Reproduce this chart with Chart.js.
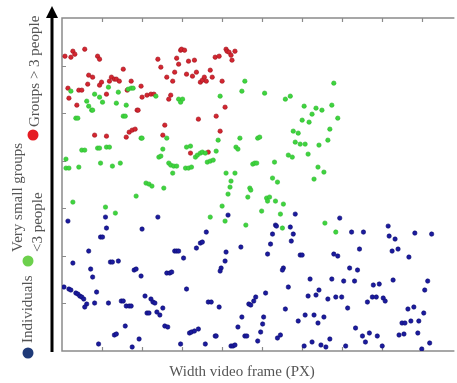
<!DOCTYPE html>
<html>
<head>
<meta charset="utf-8">
<script src="https://cdn.jsdelivr.net/npm/chart.js@4.4.1/dist/chart.umd.min.js"></script>
<style>
  html, body { margin: 0; padding: 0; background: #fff; }
  #wrap { width: 457px; height: 383px; }
</style>
</head>
<body>
<div id="wrap"><canvas id="my-chart" width="457" height="383"></canvas></div>
<script>
// groups > 3 people
const redPoints = [
  [3,295],[9,294],[11,300],[13,297],[23,302],[36,295],[38,292],[62,282],[27,276],[31,274],
  [26,267],[6,263],[17,261],[20,261],[38,266],[40,269],[48,270],[50,274],[53,272],[55,272],
  [58,270],[70,270],[45,257],[66,261],[80,265],[7,253],[15,246],[81,254],[86,256],[90,257],
  [93,257],[76,241],[77,241],[65,214],[68,219],[71,221],[74,222],[33,216],[45,215],[97,292],
  [100,284],[120,301],[121,302],[124,301],[116,293],[118,287],[128,290],[134,291],[106,274],[112,270],
  [114,279],[126,277],[132,275],[136,279],[140,269],[142,271],[144,274],[146,270],[150,281],[152,274],
  [155,294],[159,295],[166,302],[167,300],[169,299],[175,300],[171,296],[172,291],[162,270],[110,256],
  [108,252],[165,244],[156,235],[138,232],[104,226],[102,216],[160,220],[130,198],[148,199]
];

// very small groups < 3 people
const greenPoints = [
  [9,260],[33,257],[38,254],[47,264],[57,259],[67,262],[70,263],[72,263],[25,250],[27,245],
  [30,241],[31,241],[41,249],[55,248],[65,246],[62,235],[64,235],[14,233],[16,233],[80,213],
  [81,213],[20,201],[23,201],[36,203],[38,203],[45,204],[48,204],[4,192],[4,183],[7,183],
  [17,184],[39,188],[51,185],[59,188],[85,168],[88,167],[91,165],[95,255],[118,252],[120,249],
  [122,252],[160,255],[185,270],[182,260],[205,258],[226,252],[231,255],[245,245],[243,231],[106,213],
  [102,202],[126,204],[130,205],[158,211],[180,213],[176,204],[178,202],[198,213],[200,214],[234,220],
  [239,218],[236,209],[241,207],[246,207],[98,194],[100,195],[135,194],[137,196],[140,198],[142,199],
  [145,198],[147,189],[150,190],[153,191],[156,200],[108,188],[110,186],[113,185],[116,185],[125,183],
  [128,183],[131,184],[112,178],[193,187],[195,188],[197,188],[215,189],[166,178],[175,178],[171,170],
  [213,173],[218,169],[229,196],[233,194],[103,163],[170,164],[190,163],
  [275,268],[257,243],[263,241],[273,246],[253,237],[250,229],[279,233],[271,222],[269,211],[260,206],
  [249,197],[259,184],[265,179],[255,172],
  [11,149],[44,144],[54,138],[75,155],[168,157],[188,154],[162,145],[150,134],[165,130],[186,126],
  [207,153],[210,154],[208,150],[216,150],[224,147],[202,140],[221,137],[223,123],[191,161],[266,128],
  [277,119]
];

// individuals
const bluePoints = [
  [6,130],[44,134],[45,123],[39,114],[41,114],[81,122],[97,134],[27,100],[11,88],[29,82],
  [31,74],[49,89],[51,89],[57,90],[73,81],[75,82],[80,75],[2,64],[7,62],[9,61],
  [14,58],[16,57],[18,55],[20,54],[22,52],[25,47],[23,44],[35,59],[33,48],[47,48],
  [60,50],[62,50],[65,45],[68,45],[70,45],[84,55],[90,52],[92,49],[94,48],[86,38],
  [88,38],[96,39],[64,25],[53,16],[55,17],[78,12],[37,7],[71,4],
  [168,136],[236,137],[216,126],[217,125],[231,124],[213,117],[234,117],[146,119],[140,108],[142,109],
  [136,103],[232,110],[211,107],[181,104],[114,100],[116,100],[118,100],[166,99],[208,97],[241,96],
  [243,96],[123,93],[165,90],[161,83],[160,80],[224,83],[223,81],[106,78],[109,78],[111,79],
  [229,64],[126,62],[206,58],[148,49],[151,49],[159,44],[189,47],[191,46],[194,50],[196,54],
  [99,36],[102,43],[226,42],[246,36],[182,34],[204,34],[104,25],[107,24],[203,27],[178,24],
  [239,30],[138,22],[129,18],[131,19],[134,20],[201,19],[221,16],[218,13],[155,15],[156,15],
  [185,15],[187,15],[145,7],[198,10],[120,7],[171,5],[173,5],[175,6],[245,5],
  [281,133],[293,119],[305,119],[330,125],[357,118],[374,117],[331,115],[337,112],[334,100],[340,102],
  [301,102],[351,94],[275,97],[279,95],[291,83],[299,81],[251,72],[273,72],[285,70],[296,70],
  [335,71],[370,70],[260,61],[257,56],[249,55],[269,52],[277,54],[283,54],[315,66],[321,67],
  [314,54],[318,54],[309,49],[325,53],[327,50],[367,61],[289,43],[350,42],[356,44],[366,38],
  [255,36],[265,34],[259,28],[344,28],[347,28],[353,30],[361,30],[297,23],[311,18],[304,15],
  [319,15],[341,16],[346,17],[360,18],[271,12],[307,9],[253,9],[262,6],[267,4],[287,5],
  [324,5],[364,2],[372,8]
];

const seriesNames = [['Individuals'], ['Very small groups', '<3 people'], ['Groups > 3 people']];
const xTitle = 'Width video frame (PX)';
const xRange = [0, 395];
const yRange = [0, 333.2];
const xStep = 40.5;
const yStep = 47.6;

const pointColors = ['#1b1b9e', '#3fd43f', '#d42630'];
const dotColors = ['#1f3a78', '#6cd04c', '#e51c23'];
const textColor = '#555';
const serif = '"Liberation Serif", "DejaVu Serif", serif';

function toXY(list) {
  return list.map(p => ({ x: p[0], y: p[1] }));
}

function stepTicks(min, max, step) {
  const out = [];
  for (let v = min; v <= max + 0.01; v += step) out.push({ value: v });
  return out;
}

// gray frame with inward ticks + black arrow + rotated legend
const decorations = {
  id: 'decorations',
  beforeDatasetsDraw(chart) {
    const ctx = chart.ctx;
    const area = chart.chartArea;
    const xs = chart.scales.x, ys = chart.scales.y;
    ctx.save();
    ctx.strokeStyle = '#8a8a8a';
    ctx.lineWidth = 1.5;
    ctx.beginPath();
    ctx.moveTo(area.right + 2, area.top);
    ctx.lineTo(area.left, area.top);
    ctx.lineTo(area.left, area.bottom);
    ctx.lineTo(area.right + 2, area.bottom);
    ctx.stroke();
    ctx.lineWidth = 1.2;
    ctx.beginPath();
    xs.ticks.forEach(t => {
      const px = Math.round(xs.getPixelForValue(t.value)) + 0.5;
      if (px <= area.left + 1 || px >= area.right) return;
      ctx.moveTo(px, area.top); ctx.lineTo(px, area.top + 4);
      ctx.moveTo(px, area.bottom); ctx.lineTo(px, area.bottom - 4);
    });
    ys.ticks.forEach(t => {
      const py = Math.round(ys.getPixelForValue(t.value)) + 0.5;
      if (py <= area.top + 1 || py >= area.bottom - 1) return;
      ctx.moveTo(area.left, py); ctx.lineTo(area.left + 4, py);
    });
    ctx.stroke();
    ctx.restore();
  },
  afterDraw(chart) {
    const ctx = chart.ctx;
    const area = chart.chartArea;
    ctx.save();
    // arrow
    ctx.strokeStyle = '#000';
    ctx.fillStyle = '#000';
    ctx.lineWidth = 3;
    ctx.beginPath();
    ctx.moveTo(52, area.bottom + 1);
    ctx.lineTo(52, 16);
    ctx.stroke();
    ctx.beginPath();
    ctx.moveTo(52, 6);
    ctx.lineTo(46, 18);
    ctx.lineTo(58, 18);
    ctx.closePath();
    ctx.fill();

    // x title
    ctx.font = '15px ' + serif;
    ctx.fillStyle = textColor;
    ctx.textAlign = 'center';
    ctx.textBaseline = 'middle';
    ctx.fillText(xTitle, 242, 372);

    // rotated legend
    const dots = [[28, 353], [28, 261], [33, 135]];
    const labels = [
      [[28, 343]],
      [[18, 252], [38, 252]],
      [[35, 127]]
    ];
    seriesNames.forEach((lines, i) => {
      ctx.fillStyle = dotColors[i];
      ctx.beginPath();
      ctx.arc(dots[i][0], dots[i][1], 5.5, 0, Math.PI * 2);
      ctx.fill();
      lines.forEach((line, j) => {
        ctx.save();
        ctx.translate(labels[i][j][0], labels[i][j][1]);
        ctx.rotate(-Math.PI / 2);
        ctx.fillStyle = textColor;
        ctx.textAlign = 'left';
        ctx.textBaseline = 'middle';
        ctx.fillText(line, 0, 0);
        ctx.restore();
      });
    });
    ctx.restore();
  }
};

const ctx = document.getElementById('my-chart').getContext('2d');

const chart = new Chart(ctx, {
  type: 'scatter',
  data: {
    datasets: [
      { label: seriesNames[0].join(' '), data: toXY(bluePoints), backgroundColor: pointColors[0], borderColor: '#0d0d70', borderWidth: 0.6, pointRadius: 2.2 },
      { label: seriesNames[1].join(' '), data: toXY(greenPoints), backgroundColor: pointColors[1], borderColor: '#2fb82f', borderWidth: 0.6, pointRadius: 2.2 },
      { label: seriesNames[2].join(' '), data: toXY(redPoints), backgroundColor: pointColors[2], borderColor: '#a01520', borderWidth: 0.6, pointRadius: 2.2 }
    ]
  },
  options: {
    responsive: false,
    animation: false,
    events: [],
    layout: { padding: { left: 62, top: 18, right: 0, bottom: 32 } },
    plugins: { legend: { display: false }, tooltip: { enabled: false } },
    scales: {
      x: {
        type: 'linear', min: xRange[0], max: xRange[1],
        ticks: { display: false },
        grid: { display: false, drawTicks: false, tickLength: 0 },
        border: { display: false },
        afterBuildTicks: s => { s.ticks = stepTicks(xRange[0], xRange[1], xStep); }
      },
      y: {
        type: 'linear', min: yRange[0], max: yRange[1],
        ticks: { display: false },
        grid: { display: false, drawTicks: false, tickLength: 0 },
        border: { display: false },
        afterBuildTicks: s => { s.ticks = stepTicks(yRange[0], yRange[1], yStep); }
      }
    }
  },
  plugins: [decorations]
});
</script>
</body>
</html>
